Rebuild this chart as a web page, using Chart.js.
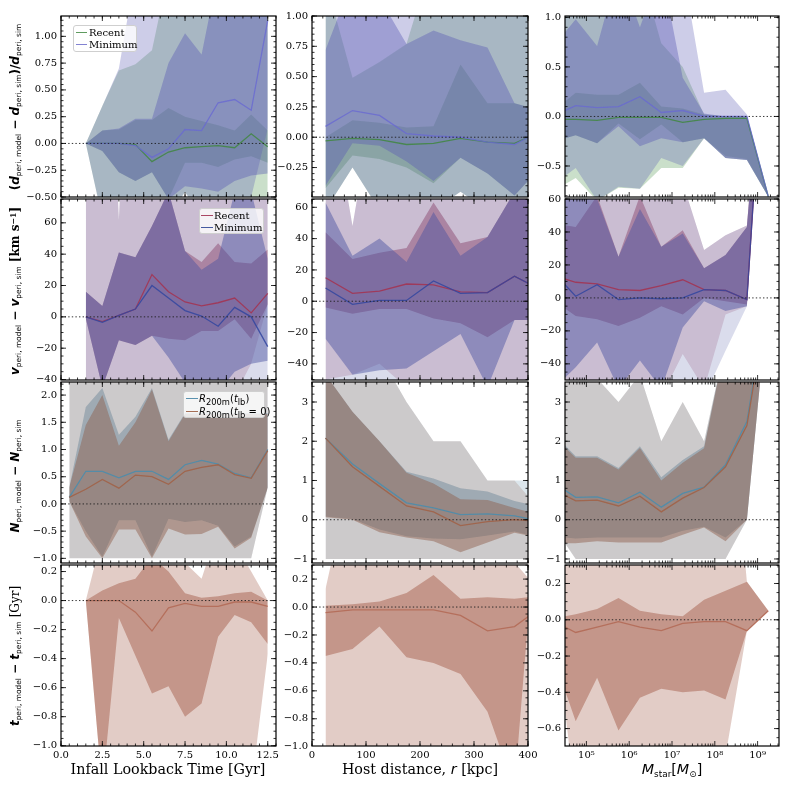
<!DOCTYPE html>
<html><head><meta charset="utf-8">
<script src="https://cdn.jsdelivr.net/npm/chart.js@4.4.1/dist/chart.umd.min.js"></script>
<style>
html,body{margin:0;padding:0;background:#fff;}
#root{position:relative;width:789px;height:789px;overflow:hidden;background:#fff;}
canvas.pc{position:absolute;}
.ov{position:absolute;white-space:nowrap;color:#000;pointer-events:none;z-index:5;}
.yt{transform:translate(-50%,-50%) rotate(-90deg);font-family:'DejaVu Sans',sans-serif;font-size:12px;font-weight:bold;}
.xt{transform:translate(-50%,-50%);font-family:'DejaVu Serif',serif;font-size:14.3px;}
.ov sub{font-size:0.62em;vertical-align:-0.3em;line-height:0;font-weight:normal;}
.ov sup{font-size:0.65em;vertical-align:0.45em;line-height:0;}
.sans{font-family:'DejaVu Sans',sans-serif;}
.ser{font-family:'DejaVu Serif',serif;}
.leg{position:absolute;border:1px solid #cfcfcf;border-radius:3px;background:rgba(255,255,255,0.8);font-family:'DejaVu Serif',serif;font-size:10px;box-sizing:border-box;z-index:6;}
.li{position:absolute;height:12px;line-height:12px;white-space:nowrap;}
.sw{position:absolute;top:5px;height:0;border-top:1.5px solid #000;}
.ltx{position:absolute;top:0;}
</style>
</head><body>
<div id="root"></div>
<script>
// ---------- x categories ----------
const X_T  = [1.5,2.5,3.5,4.5,5.5,6.5,7.5,8.5,9.5,10.5,11.5,12.5];
const X_T0 = [0.5,1.5,2.5,3.5,4.5,5.5,6.5,7.5,8.5,9.5,10.5,11.5,12.5];
const X_R  = [25,75,125,175,225,275,325,375,400];
const X_M  = [1.78e4,5.62e4,1.78e5,5.62e5,1.78e6,5.62e6,1.78e7,5.62e7,1.78e8,5.62e8,1.78e9];

// ---------- tick labels ----------
const XT_TICKS = [0,2.5,5,7.5,10,12.5];
const XR_TICKS = [0,100,200,300,400];
const XM_TICKS = [1e5,1e6,1e7,1e8,1e9];
const YT_D1 = [-0.5,-0.25,0,0.25,0.5,0.75,1.0];
const YT_D2 = [-0.25,0,0.25,0.5,0.75,1.0];
const YT_D3 = [-0.5,0,0.5,1.0];
const YT_V  = [-40,-20,0,20,40,60];
const YT_N1 = [-1,-0.5,0,0.5,1,1.5,2];
const YT_N2 = [-1,0,1,2,3];
const YT_T1 = [-1,-0.8,-0.6,-0.4,-0.2,0,0.2];
const YT_T3 = [-0.6,-0.4,-0.2,0,0.2];

// ---------- Row 1: d_peri, infall time ----------
const dT_rec_med = [0,0,0,-0.01,-0.17,-0.08,-0.04,-0.03,-0.02,-0.04,0.09,-0.03];
const dT_rec_lo1 = [0,-0.07,-0.27,-0.35,-0.27,-0.52,-0.18,-0.18,-0.22,-0.15,-0.12,-0.18];
const dT_rec_hi1 = [0,0.12,0.13,0.22,0.22,0.33,0.25,0.21,0.17,0.12,0.27,0.12];
const dT_rec_lo2 = [0,-0.7,-0.7,-0.7,-0.7,-0.7,-0.45,-0.7,-0.7,-0.7,-0.7,-0.6];
const dT_rec_hi2 = [0,0.35,0.68,0.74,0.87,1.6,1.6,1.6,1.6,1.6,1.6,1.6];
const dT_min_med = [0,0,0,-0.02,-0.13,-0.05,0.13,0.12,0.38,0.41,0.31,1.15];
const dT_min_lo1 = [0,-0.07,-0.27,-0.35,-0.27,-0.52,-0.4,-0.42,-0.45,-0.35,-0.3,-0.28];
const dT_min_hi1 = [0,0.12,0.14,0.23,0.23,0.75,1.03,0.83,1.6,1.6,1.6,1.6];
const dT_min_lo2 = [0,-0.7,-0.7,-0.7,-0.7,-0.7,-0.45,-0.7,-0.7,-0.6,-0.5,0.14];
const dT_min_hi2 = [0,0.35,0.7,1.6,1.6,1.6,1.6,1.6,1.6,1.6,1.6,1.6];
// ---------- Row 1: d_peri, host distance ----------
const dR_rec_med = [-0.03,-0.01,-0.02,-0.06,-0.05,-0.01,-0.04,-0.05,0.0];
const dR_rec_lo1 = [-0.42,-0.15,-0.18,-0.25,-0.38,-0.17,-0.3,-0.48,-0.36];
const dR_rec_hi1 = [0.0,0.14,0.12,0.08,0.09,0.6,0.28,0.28,0.25];
const dR_rec_lo2 = [-0.6,-0.25,-0.6,-0.6,-0.6,-0.45,-0.6,-0.6,-0.6];
const dR_rec_hi2 = [1.3,0.49,0.62,0.77,1.5,1.5,1.5,1.5,1.5];
const dR_min_med = [0.09,0.22,0.18,0.03,0.01,0.0,-0.04,-0.06,0.0];
const dR_min_lo1 = [-0.4,-0.05,-0.07,-0.2,-0.36,-0.17,-0.3,-0.48,-0.36];
const dR_min_hi1 = [0.72,1.3,1.15,0.77,0.88,0.8,0.74,0.28,0.25];
const dR_min_lo2 = [-0.6,-0.25,-0.6,-0.6,-0.6,-0.45,-0.6,-0.6,-0.6];
const dR_min_hi2 = [1.5,1.5,1.5,1.5,1.5,1.5,1.5,1.5,1.5];
// ---------- Row 1: d_peri, stellar mass ----------
const dM_rec_med = [-0.03,-0.03,-0.04,-0.01,-0.01,-0.01,-0.06,-0.03,-0.02,-0.02,-0.81];
const dM_rec_lo1 = [-0.25,-0.19,-0.27,-0.07,-0.23,-0.08,-0.26,-0.22,-0.42,-0.44,-0.81];
const dM_rec_hi1 = [0.06,0.24,0.22,0.22,0.34,0.1,0.08,0.02,0.0,0.0,-0.81];
const dM_rec_lo2 = [-0.75,-0.62,-0.85,-0.72,-0.73,-0.52,-0.52,-0.22,-0.4,-0.43,-0.81];
const dM_rec_hi2 = [1.5,1.5,1.5,1.5,1.5,0.74,0.5,0.02,0.0,0.0,-0.81];
const dM_min_med = [0.01,0.11,0.09,0.1,0.2,0.04,0.06,0.0,0.0,0.0,-0.81];
const dM_min_lo1 = [-0.25,-0.19,-0.27,-0.1,-0.3,-0.22,-0.26,-0.22,-0.42,-0.44,-0.81];
const dM_min_hi1 = [0.72,0.98,0.71,1.5,0.9,1.5,0.39,0.03,0.0,0.0,-0.81];
const dM_min_lo2 = [-0.68,-0.52,-0.85,-0.71,-0.73,-0.42,-0.5,-0.22,-0.42,-0.44,-0.81];
const dM_min_hi2 = [1.5,1.5,1.5,1.5,1.5,1.5,1.5,0.24,0.27,0.02,-0.81];

// ---------- Row 2: v_peri ----------
const vT_rec_med = [0,-3,1,5,27,16,9.5,7,9,12,2.5,15];
const vT_rec_lo1 = [-1,-45,-15,-18,-12,-14,-15,-9,-9,-1.5,-14,8];
const vT_rec_hi1 = [16,7,41,38,58,80,42,35,47,35,34,43];
const vT_rec_lo2 = [-50,-50,-50,-50,-50,-50,-50,-50,-50,-50,-30,8];
const vT_rec_hi2 = [90,300,62,300,90,90,90,90,90,90,90,90];
const vT_min_med = [0,-3.5,1,5,20,12,4,0.5,-6,6,0,-19];
const vT_min_lo1 = [-1,-45,-15,-18,-12,-26,-42,-48,-48,-35,-30,-28];
const vT_min_hi1 = [16,7,41,38,58,80,42,30,37,80,80,37];
const vT_min_lo2 = [-50,-50,-50,-50,-50,-50,-50,-50,-50,-50,-50,-50];
const vT_min_hi2 = [90,300,62,300,90,90,90,90,90,90,90,90];

const vR_rec_med = [15,5,6.5,11,10.5,6,5.5,16,11.5];
const vR_rec_lo1 = [-4,-8,-5,-5,-11,-14,-23,-12,-12];
const vR_rec_hi1 = [44,27,31,34,63,37,41,70,70];
const vR_rec_lo2 = [-50,-47,-40,-55,-55,-55,-55,-55,-55];
const vR_rec_hi2 = [150,48,150,90,90,90,90,90,90];
const vR_min_med = [8.5,-2,0.5,0.5,13,5,5.5,16,11.5];
const vR_min_lo1 = [-24,-47,-44,-43,-32,-21,-55,-12,-12];
const vR_min_hi1 = [63,29,40,25,57,29,41,70,70];
const vR_min_lo2 = [-60,-60,-60,-60,-60,-60,-60,-60,-60];
const vR_min_hi2 = [150,48,150,90,90,90,90,90,90];

const vM_rec_med = [13.5,9.5,8.5,5,4.5,7.5,11,5,4.5,-1,200];
const vM_rec_lo1 = [-2,-11,-13,-17,-12,-5,-10,0,-2,-4,200];
const vM_rec_hi1 = [45,43,62,25,62,31,41,18,26,43,200];
const vM_rec_lo2 = [-60,-60,-60,-60,-60,-60,-34,-55,-10,-5,200];
const vM_rec_hi2 = [70,70,70,70,70,70,70,29,38,44,200];
const vM_min_med = [15,1,8,-1,0,-0.5,0,5,4.5,-1,200];
const vM_min_lo1 = [-55,-42,-27,-55,-38,-55,-18,-2,-8,-5,200];
const vM_min_hi1 = [70,65,60,25,54,31,39,18,26,43,200];
const vM_min_lo2 = [-60,-60,-60,-60,-60,-60,-60,-60,-32,-5,200];
const vM_min_hi2 = [70,70,70,70,70,70,70,29,38,44,200];

// ---------- Row 3: N_peri ----------
const nT_lb_med = [0.12,0.6,0.6,0.48,0.6,0.6,0.45,0.72,0.8,0.73,0.56,0.48,1.0];
const nT_lb_lo1 = [0.05,-0.5,-0.97,-0.3,-0.3,-0.97,-0.27,-0.33,-0.3,-0.4,-0.78,-0.6,0.3];
const nT_lb_hi1 = [0.3,1.78,2.13,1.27,1.6,2.13,1.18,1.67,1.67,1.67,1.67,1.67,1.67];
const nT_lb_lo2 = [-1,-1,-1,-1,-1,-1,-1,-1,-1,-1,-1,-1,0.3];
const nT_lb_hi2 = [2.4,2.4,2.4,2.4,2.4,2.4,2.4,2.4,2.4,2.4,2.4,2.4,2.4];
const nT_0_med  = [0.12,0.27,0.45,0.29,0.53,0.5,0.36,0.6,0.67,0.72,0.54,0.47,0.98];
const nT_0_lo1  = [0.05,-0.6,-1.0,-0.47,-0.47,-1.0,-0.45,-0.56,-0.55,-0.42,-0.82,-0.62,0.3];
const nT_0_hi1  = [0.3,1.45,2.0,1.07,1.5,2.1,1.15,1.65,1.65,1.65,1.65,1.65,1.65];
const nT_0_lo2  = [-1,-1,-1,-1,-1,-1,-1,-1,-1,-1,-1,-1,0.3];
const nT_0_hi2  = [2.4,2.4,2.4,2.4,2.4,2.4,2.4,2.4,2.4,2.4,2.4,2.4,2.4];

const nR_lb_med = [2.08,1.42,0.92,0.43,0.3,0.13,0.15,0.1,0.03];
const nR_lb_lo1 = [0.08,0.02,-0.25,-0.42,-0.48,-0.5,-0.4,-0.3,-0.38];
const nR_lb_hi1 = [3.7,2.75,2.0,1.22,1.05,0.8,0.72,0.48,0.4];
const nR_lb_lo2 = [-1,-1,-1,-1,-1,-1,-1,-1,-1];
const nR_lb_hi2 = [3.7,3.7,4.2,3.0,2.0,2.0,1.0,1.0,1.0];
const nR_0_med  = [2.08,1.35,0.85,0.35,0.2,-0.15,-0.05,0.0,-0.02];
const nR_0_lo1  = [0.06,0.0,-0.32,-0.45,-0.55,-0.83,-0.58,-0.33,-0.4];
const nR_0_hi1  = [3.7,2.75,2.0,1.2,0.92,0.52,0.5,0.3,0.2];
const nR_0_lo2  = [-1,-1,-1,-1,-1,-1,-1,-1,-1];
const nR_0_hi2  = [3.7,3.7,4.2,3.0,2.0,2.0,1.0,1.0,0.6];

const nM_lb_med = [0.93,0.57,0.58,0.43,0.7,0.32,0.67,0.83,1.4,2.5,5.8];
const nM_lb_lo1 = [-0.42,-0.48,-0.45,-0.45,-0.45,-0.45,-0.28,-0.18,-0.45,0.0,5.7];
const nM_lb_hi1 = [2.17,1.62,1.62,1.32,1.87,1.08,1.52,1.87,4.5,6.5,6.0];
const nM_lb_lo2 = [-0.2,-1,-1,-1,-1,-1,-1,-1,-1,0.0,5.7];
const nM_lb_hi2 = [4.5,4.5,3.6,3.0,3.7,2.0,3.0,2.0,4.5,6.5,6.0];
const nM_0_med  = [0.76,0.48,0.5,0.35,0.6,0.2,0.55,0.82,1.35,2.4,5.7];
const nM_0_lo1  = [-0.6,-0.6,-0.55,-0.58,-0.58,-0.58,-0.38,-0.2,-0.55,0.0,5.7];
const nM_0_hi1  = [2.12,1.58,1.58,1.28,1.83,1.0,1.45,1.82,4.5,6.5,6.0];
const nM_0_lo2  = [-0.2,-1,-1,-1,-1,-1,-1,-1,-1,0.0,5.7];
const nM_0_hi2  = [4.5,4.5,3.6,3.0,3.7,2.0,3.0,2.0,4.5,6.5,6.0];

// ---------- Row 4: t_peri ----------
const tT_med = [0,0,0,-0.08,-0.21,-0.05,-0.02,-0.04,-0.04,-0.01,-0.01,-0.04];
const tT_lo1 = [0,-1.3,-0.12,-0.38,-0.64,-0.59,-0.8,-0.71,-0.25,-0.1,-0.15,-0.3];
const tT_hi1 = [0,0.07,0.12,0.15,0.3,0.2,0.05,0.02,0.03,0.05,0.06,0.0];
const tT_lo2 = [0,-1.3,-1.3,-1.3,-1.3,-1.3,-1.3,-1.3,-1.3,-1.3,-1.3,-0.37];
const tT_hi2 = [0,0.45,0.4,0.4,0.4,0.4,0.26,0.15,0.5,0.4,0.2,0.0];

const tR_med = [-0.04,-0.02,-0.02,-0.02,-0.02,-0.06,-0.17,-0.14,-0.07];
const tR_lo1 = [-0.35,-0.3,-0.14,-0.36,-0.4,-0.48,-0.75,-1.3,-0.1];
const tR_hi1 = [0.01,0.02,0.04,0.1,0.23,0.06,0.07,0.06,0.07];
const tR_lo2 = [-1.3,-1.3,-1.3,-1.3,-1.3,-1.3,-1.3,-1.3,-1.3];
const tR_hi2 = [0.13,1.0,0.6,0.6,0.6,0.6,0.6,0.32,0.21];

const tM_med = [-0.01,-0.07,-0.04,-0.01,-0.04,-0.06,-0.02,-0.01,-0.01,-0.06,0.05];
const tM_lo1 = [-0.22,-0.56,-0.32,-0.61,-0.43,-0.38,-0.4,-0.39,-0.44,-0.06,0.05];
const tM_hi1 = [0.01,0.03,0.06,0.12,0.05,0.03,0.02,0.11,0.16,0.21,0.05];
const tM_lo2 = [0.0,-1,-1,-1,-1,-1,-1,-1,-0.75,-0.06,0.05];
const tM_hi2 = [0.5,0.5,0.5,0.5,0.5,0.5,0.5,0.5,1.5,0.21,0.05];

// ---------- styles ----------
const C_REC1 = {c:[80,150,80],  aO:0.3, aI:0.35, line:'rgba(65,135,65,0.85)'};
const C_MIN1 = {c:[90,90,180],  aO:0.3, aI:0.4,  line:'rgba(105,105,210,0.8)'};
const C_REC2 = {c:[150,60,90],  aO:0.2, aI:0.45, line:'rgba(165,50,80,0.85)'};
const C_MIN2 = {c:[70,80,160],  aO:0.2, aI:0.45, line:'rgba(50,70,160,0.85)'};
const C_LB3  = {c:[80,130,160], aO:0.2, aI:0.4,  line:'rgba(80,140,170,0.95)'};
const C_Z3   = {c:[140,90,70],  aO:0.2, aI:0.45, line:'rgba(160,100,75,0.95)'};
const C_T4   = {c:[160,85,65],  aO:0.3, aI:0.45, line:'rgba(180,110,90,0.95)'};

function S(st, med, lo1, hi1, lo2, hi2){ return Object.assign({med,lo1,hi1,lo2,hi2}, st); }

const XCFG = [
  {log:false, min:0, max:13, maj:2.5, mnr:0.5, ticks:XT_TICKS, dec:1},
  {log:false, min:0, max:400, maj:100, mnr:20, ticks:XR_TICKS, dec:0},
  {log:true, min:Math.pow(10,4.5), max:Math.pow(10,9.5), ticks:XM_TICKS}
];

const PANELS = [
 {row:0,col:0,x:X_T, yr:[-0.5,1.19], yt:YT_D1, dec:2, maj:0.25, mnr:0.05,
  s:[S(C_REC1,dT_rec_med,dT_rec_lo1,dT_rec_hi1,dT_rec_lo2,dT_rec_hi2), S(C_MIN1,dT_min_med,dT_min_lo1,dT_min_hi1,dT_min_lo2,dT_min_hi2)]},
 {row:0,col:1,x:X_R, yr:[-0.493,1.0], yt:YT_D2, dec:2, maj:0.25, mnr:0.05,
  s:[S(C_REC1,dR_rec_med,dR_rec_lo1,dR_rec_hi1,dR_rec_lo2,dR_rec_hi2), S(C_MIN1,dR_min_med,dR_min_lo1,dR_min_hi1,dR_min_lo2,dR_min_hi2)]},
 {row:0,col:2,x:X_M, yr:[-0.813,1.014], yt:YT_D3, dec:1, maj:0.5, mnr:0.1,
  s:[S(C_REC1,dM_rec_med,dM_rec_lo1,dM_rec_hi1,dM_rec_lo2,dM_rec_hi2), S(C_MIN1,dM_min_med,dM_min_lo1,dM_min_hi1,dM_min_lo2,dM_min_hi2)]},
 {row:1,col:0,x:X_T, yr:[-40.3,75.2], yt:YT_V, dec:0, maj:20, mnr:5,
  s:[S(C_REC2,vT_rec_med,vT_rec_lo1,vT_rec_hi1,vT_rec_lo2,vT_rec_hi2), S(C_MIN2,vT_min_med,vT_min_lo1,vT_min_hi1,vT_min_lo2,vT_min_hi2)]},
 {row:1,col:1,x:X_R, yr:[-50.3,65.3], yt:YT_V, dec:0, maj:20, mnr:5,
  s:[S(C_REC2,vR_rec_med,vR_rec_lo1,vR_rec_hi1,vR_rec_lo2,vR_rec_hi2), S(C_MIN2,vR_min_med,vR_min_lo1,vR_min_hi1,vR_min_lo2,vR_min_hi2)]},
 {row:1,col:2,x:X_M, yr:[-49.8,60], yt:YT_V, dec:0, maj:20, mnr:5,
  s:[S(C_REC2,vM_rec_med,vM_rec_lo1,vM_rec_hi1,vM_rec_lo2,vM_rec_hi2), S(C_MIN2,vM_min_med,vM_min_lo1,vM_min_hi1,vM_min_lo2,vM_min_hi2)]},
 {row:2,col:0,x:X_T0, yr:[-1.085,2.24], yt:YT_N1, dec:1, maj:0.5, mnr:0.1,
  s:[S(C_LB3,nT_lb_med,nT_lb_lo1,nT_lb_hi1,nT_lb_lo2,nT_lb_hi2), S(C_Z3,nT_0_med,nT_0_lo1,nT_0_hi1,nT_0_lo2,nT_0_hi2)]},
 {row:2,col:1,x:X_R, yr:[-1.103,3.51], yt:YT_N2, dec:0, maj:1, mnr:0.2,
  s:[S(C_LB3,nR_lb_med,nR_lb_lo1,nR_lb_hi1,nR_lb_lo2,nR_lb_hi2), S(C_Z3,nR_0_med,nR_0_lo1,nR_0_hi1,nR_0_lo2,nR_0_hi2)]},
 {row:2,col:2,x:X_M, yr:[-1.103,3.51], yt:YT_N2, dec:0, maj:1, mnr:0.2,
  s:[S(C_LB3,nM_lb_med,nM_lb_lo1,nM_lb_hi1,nM_lb_lo2,nM_lb_hi2), S(C_Z3,nM_0_med,nM_0_lo1,nM_0_hi1,nM_0_lo2,nM_0_hi2)]},
 {row:3,col:0,x:X_T, yr:[-1.002,0.245], yt:YT_T1, dec:1, maj:0.2, mnr:0.05,
  s:[S(C_T4,tT_med,tT_lo1,tT_hi1,tT_lo2,tT_hi2)]},
 {row:3,col:1,x:X_R, yr:[-0.995,0.301], yt:YT_T1, dec:1, maj:0.2, mnr:0.05,
  s:[S(C_T4,tR_med,tR_lo1,tR_hi1,tR_lo2,tR_hi2)]},
 {row:3,col:2,x:X_M, yr:[-0.696,0.302], yt:YT_T3, dec:1, maj:0.2, mnr:0.05,
  s:[S(C_T4,tM_med,tM_lo1,tM_hi1,tM_lo2,tM_hi2)]}
];

// ---------- layout ----------
const COLS=[{l:61,w:215},{l:312,w:216},{l:565,w:214}];
const ROWS=[{t:14,h:183},{t:197,h:183},{t:380,h:183},{t:563,h:183}];
const PL=52, PT=8, PR=14, PB=24;
const TF = {family:"'DejaVu Serif', serif", size:10};

function rgba(c,a){return 'rgba('+c[0]+','+c[1]+','+c[2]+','+a+')';}
function pts(xs,ys){return xs.map((x,i)=>({x:x,y:ys[i]}));}
function fmt(v,d){let s=(Math.abs(v)<1e-9?0:v).toFixed(d);return s.replace('-','\u2212');}
const SUP={'0':'\u2070','1':'\u00b9','2':'\u00b2','3':'\u00b3','4':'\u2074','5':'\u2075','6':'\u2076','7':'\u2077','8':'\u2078','9':'\u2079'};
function fmtLog(v){const e=Math.round(Math.log10(v));return '10'+String(e).split('').map(ch=>SUP[ch]).join('');}
function stepsIn(min,max,step){const out=[];let k=Math.ceil(min/step-1e-6);for(;k*step<=max+1e-9;k++)out.push(k*step);return out;}
function logMinor(min,max){const out=[];for(let e=3;e<=10;e++){for(let m=2;m<=9;m++){const v=m*Math.pow(10,e);if(v>=min&&v<=max)out.push(v);}}return out;}

const decor={
  id:'decor',
  afterDatasetsDraw(chart){
    const o=chart.options.plugins.decor;
    const ctx=chart.ctx, a=chart.chartArea, xs=chart.scales.x, ys=chart.scales.y;
    ctx.save();
    const y0=ys.getPixelForValue(0);
    ctx.setLineDash([1.4,2.2]);
    ctx.lineWidth=1; ctx.strokeStyle='rgba(30,30,30,0.9)';
    ctx.beginPath(); ctx.moveTo(a.left,y0); ctx.lineTo(a.right,y0); ctx.stroke();
    ctx.setLineDash([]);
    ctx.strokeStyle='#000'; ctx.lineWidth=0.8;
    const dx=(vals,len)=>{for(const v of vals){const p=xs.getPixelForValue(v);if(p<a.left-0.5||p>a.right+0.5)continue;ctx.beginPath();ctx.moveTo(p,a.bottom);ctx.lineTo(p,a.bottom-len);ctx.moveTo(p,a.top);ctx.lineTo(p,a.top+len);ctx.stroke();}};
    const dy=(vals,len)=>{for(const v of vals){const p=ys.getPixelForValue(v);if(p<a.top-0.5||p>a.bottom+0.5)continue;ctx.beginPath();ctx.moveTo(a.left,p);ctx.lineTo(a.left+len,p);ctx.moveTo(a.right,p);ctx.lineTo(a.right-len,p);ctx.stroke();}};
    dx(o.xMaj,5); dx(o.xMnr,2.5); dy(o.yMaj,5); dy(o.yMnr,2.5);
    ctx.lineWidth=1.2; ctx.strokeRect(a.left,a.top,a.right-a.left,a.bottom-a.top);
    ctx.restore();
  }
};

const root=document.getElementById('root');

function makePanel(p){
  const c=COLS[p.col], r=ROWS[p.row], xc=XCFG[p.col];
  const W=c.w+PL+PR, H=r.h+PT+PB;
  const cv=document.createElement('canvas');
  cv.className='pc';
  cv.width=W; cv.height=H;
  cv.style.left=(c.l-PL)+'px'; cv.style.top=(r.t-PT)+'px';
  cv.style.width=W+'px'; cv.style.height=H+'px';
  root.appendChild(cv);
  const ds=[];
  // earlier series drawn first (higher order = drawn earlier); each series: outer then inner
  p.s.forEach((s,i)=>{
    const oOuter=20-4*i, oInner=19-4*i;
    ds.push({data:pts(p.x,s.hi2),fill:'+1',backgroundColor:rgba(s.c,s.aO),borderWidth:0,pointRadius:0,order:oOuter});
    ds.push({data:pts(p.x,s.lo2),fill:false,borderWidth:0,pointRadius:0,order:oOuter});
    ds.push({data:pts(p.x,s.hi1),fill:'+1',backgroundColor:rgba(s.c,s.aI),borderWidth:0,pointRadius:0,order:oInner});
    ds.push({data:pts(p.x,s.lo1),fill:false,borderWidth:0,pointRadius:0,order:oInner});
  });
  p.s.forEach((s,i)=>{
    ds.push({data:pts(p.x,s.med),fill:false,borderColor:s.line,borderWidth:1.3,pointRadius:0,order:2-i});
  });
  const xMaj = xc.log ? XM_TICKS : stepsIn(xc.min,xc.max,xc.maj);
  const xMnr = xc.log ? logMinor(xc.min,xc.max) : stepsIn(xc.min,xc.max,xc.mnr);
  new Chart(cv,{
    type:'line',
    data:{datasets:ds},
    options:{
      responsive:false, animation:false, events:[],
      layout:{padding:{top:PT,right:PR,left:0,bottom:0},autoPadding:false},
      elements:{line:{tension:0}},
      plugins:{legend:{display:false},tooltip:{enabled:false},
        decor:{xMaj:xMaj,xMnr:xMnr,yMaj:stepsIn(p.yr[0],p.yr[1],p.maj),yMnr:stepsIn(p.yr[0],p.yr[1],p.mnr)}},
      scales:{
        x:{type:xc.log?'logarithmic':'linear',min:xc.min,max:xc.max,
           grid:{display:false,drawTicks:false},border:{display:false},
           afterFit(s){s.height=PB;},
           afterBuildTicks(s){s.ticks=xc.ticks.map(v=>({value:v}));},
           ticks:{display:p.row===3,padding:3,maxRotation:0,minRotation:0,autoSkip:false,color:'#000',font:TF,
             callback:(v)=>xc.log?fmtLog(v):fmt(v,xc.dec)}},
        y:{type:'linear',min:p.yr[0],max:p.yr[1],
           grid:{display:false,drawTicks:false},border:{display:false},
           afterFit(s){s.width=PL;},
           afterBuildTicks(s){s.ticks=p.yt.map(v=>({value:v}));},
           ticks:{padding:4,autoSkip:false,color:'#000',font:TF,callback:(v)=>fmt(v,p.dec)}}
      }
    },
    plugins:[decor]
  });
}
PANELS.forEach(makePanel);

// ---------- text overlays ----------
function ov(cls,x,y,html){const d=document.createElement('div');d.className='ov '+cls;d.style.left=x+'px';d.style.top=y+'px';d.innerHTML=html;root.appendChild(d);return d;}
ov('yt',15,107,'(<i>d</i><sub>peri, model</sub> \u2212 <i>d</i><sub>peri, sim</sub>)/<i>d</i><sub>peri, sim</sub>');
ov('yt',15,291,'<i>v</i><sub>peri, model</sub> \u2212 <i>v</i><sub>peri, sim</sub> <span class="ser">[km s<sup>\u22121</sup>]</span>');
ov('yt',15,476,'<i>N</i><sub>peri, model</sub> \u2212 <i>N</i><sub>peri, sim</sub>');
ov('yt',15,656,'<i>t</i><sub>peri, model</sub> \u2212 <i>t</i><sub>peri, sim</sub> <span class="ser" style="font-weight:normal">[Gyr]</span>');
ov('xt',168,769,'Infall Lookback Time [Gyr]');
ov('xt',420,769,'Host distance, <i class="sans">r</i> [kpc]');
ov('xt',672,769,'<span class="sans"><i>M</i><sub>star</sub>[<i>M</i><sub>\u2299</sub>]</span>');

function legend(x,y,w,h,items){
  const d=document.createElement('div');d.className='leg';
  d.style.left=x+'px';d.style.top=y+'px';d.style.width=w+'px';d.style.height=h+'px';
  items.forEach(it=>{
    const li=document.createElement('div');li.className='li';li.style.left='0px';li.style.top=(it.y-6)+'px';
    li.innerHTML='<span class="sw" style="left:'+it.sx+'px;width:'+it.sw+'px;border-top-color:'+it.col+'"></span><span class="ltx" style="left:'+it.tx+'px">'+it.t+'</span>';
    d.appendChild(li);
  });
  root.appendChild(d);
}
legend(73,25,64,27,[
  {y:7,sx:2,sw:11,tx:15,col:'rgb(95,155,95)',t:'Recent'},
  {y:19,sx:2,sw:11,tx:15,col:'rgb(130,130,210)',t:'Minimum'}]);
legend(199,208,65,26,[
  {y:7,sx:1,sw:12,tx:14,col:'rgb(170,70,100)',t:'Recent'},
  {y:19,sx:1,sw:12,tx:14,col:'rgb(70,90,160)',t:'Minimum'}]);
legend(183,391,82,27,[
  {y:7,sx:2,sw:12,tx:15,col:'rgb(90,145,175)',t:'<span class="sans"><i>R</i><sub>200m</sub>(<i>t</i><sub>lb</sub>)</span>'},
  {y:20,sx:2,sw:12,tx:15,col:'rgb(165,110,85)',t:'<span class="sans"><i>R</i><sub>200m</sub>(<i>t</i><sub>lb</sub> = 0)</span>'}]);
</script>
</body></html>
